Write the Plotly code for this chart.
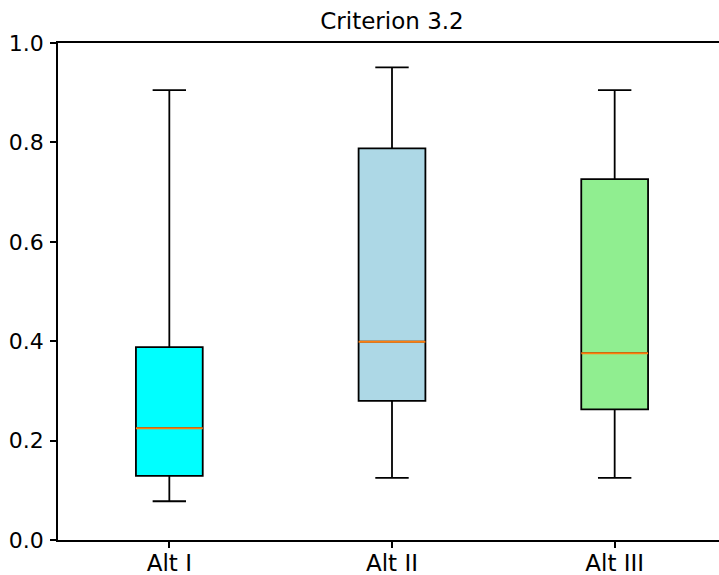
import plotly.graph_objects as go

categories = ["Alt I", "Alt II", "Alt III"]
positions = [1, 2, 3]
lower_whisker = [0.078, 0.125, 0.125]
q1_values = [0.129, 0.280, 0.263]
medians = [0.225, 0.399, 0.376]
q3_values = [0.388, 0.788, 0.726]
upper_whisker = [0.905, 0.951, 0.905]
fill_colors = ["cyan", "lightblue", "lightgreen"]
y_ticks = [0.0, 0.2, 0.4, 0.6, 0.8, 1.0]

BOX_W = 0.3
FONT = "DejaVu Sans"
FIG_W = 760  # figure is wider than the 719px window; right edge is cropped like the reference

fig = go.Figure()
for i, cat in enumerate(categories):
    fig.add_trace(go.Box(
        x=[positions[i]],
        q1=[q1_values[i]], median=[medians[i]], q3=[q3_values[i]],
        lowerfence=[lower_whisker[i]], upperfence=[upper_whisker[i]],
        width=BOX_W, whiskerwidth=0.5,
        fillcolor=fill_colors[i],
        line=dict(color="black", width=1.8),
        boxpoints=False, hoverinfo="skip", showlegend=False, name=cat,
    ))
    fig.add_trace(go.Scatter(
        x=[positions[i] - BOX_W / 2, positions[i] + BOX_W / 2],
        y=[medians[i], medians[i]],
        mode="lines", line=dict(color="#ff7f0e", width=2),
        hoverinfo="skip", showlegend=False,
    ))

fig.update_layout(
    width=FIG_W, height=575,
    margin=dict(l=58, r=34, t=43, b=35, autoexpand=False),
    paper_bgcolor="white", plot_bgcolor="white",
    font=dict(family=FONT, size=22, color="black"),
    title=dict(text="Criterion 3.2", font=dict(family=FONT, size=23, color="black"),
               xref="container", yref="container", x=392 / FIG_W, y=1 - 21 / 575,
               xanchor="center", yanchor="middle"),
)
fig.update_xaxes(
    range=[0.5, 3.5], tickmode="array", tickvals=positions, ticktext=categories,
    showline=True, linecolor="black", linewidth=1.5, mirror=True,
    ticks="outside", ticklen=6, tickwidth=1.5, tickcolor="black",
    showgrid=False, zeroline=False, ticklabelstandoff=-4, automargin=False,
    tickfont=dict(family=FONT, size=23, color="black"),
)
fig.update_yaxes(
    range=[0, 1], tickmode="array", tickvals=y_ticks, ticktext=[f"{v:.1f}" for v in y_ticks],
    showline=True, linecolor="black", linewidth=1.5, mirror=True,
    ticks="outside", ticklen=6, tickwidth=1.5, tickcolor="black",
    showgrid=False, zeroline=False, ticklabelstandoff=2, automargin=False,
    tickfont=dict(family=FONT, size=22, color="black"),
)

fig.write_html(
    "out.html",
    config={"displayModeBar": False},
    post_script="document.body.style.margin='0';document.body.style.overflow='hidden';",
)
